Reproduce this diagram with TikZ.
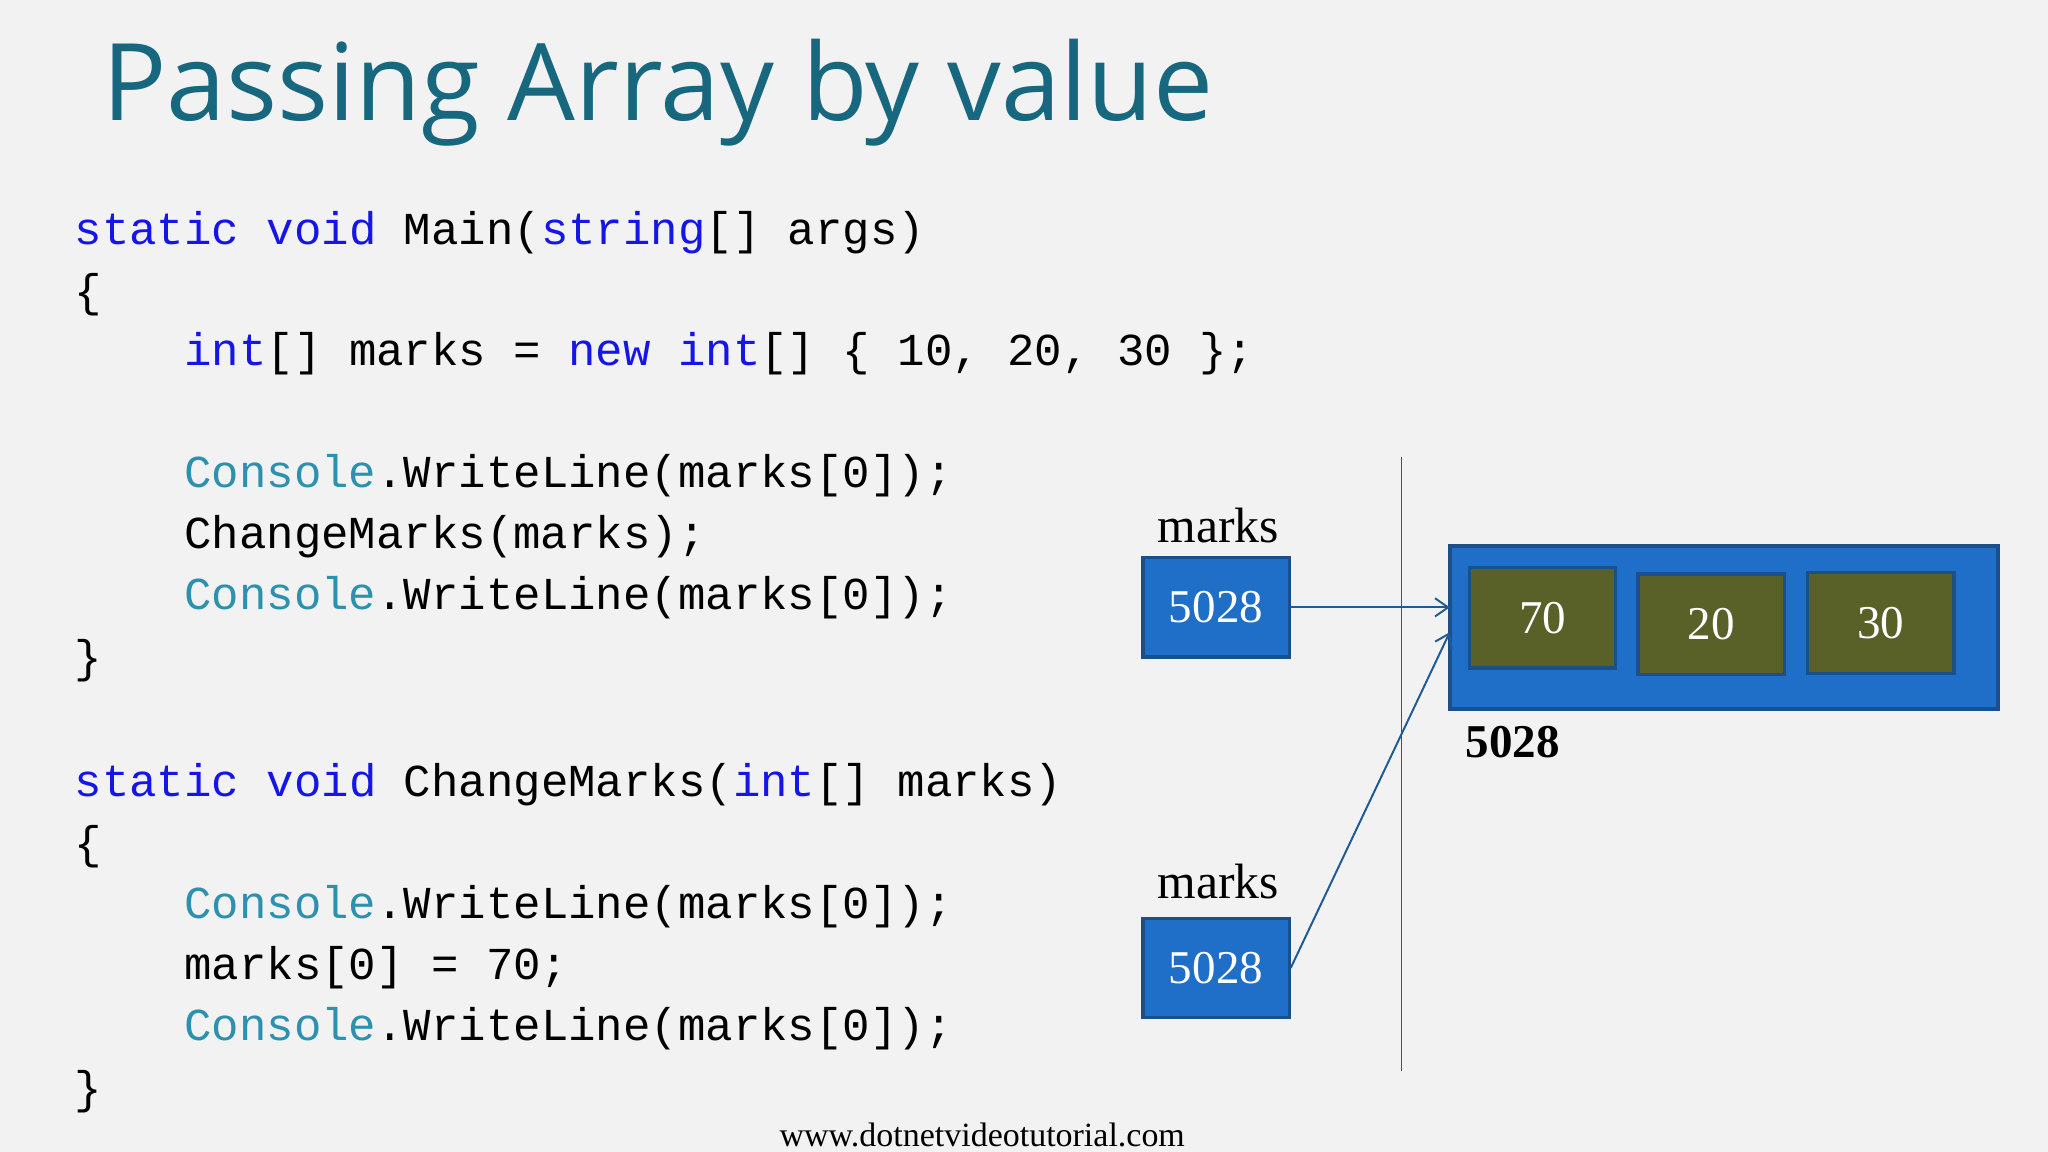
\documentclass[tikz,border=0pt]{standalone}
\usepackage{fontspec}
\setmainfont{Liberation Serif}
\setmonofont{Liberation Mono}
\newfontfamily\titlefont{Open Sans}
\usetikzlibrary{arrows.meta}
\definecolor{kw}{HTML}{1515E8}
\definecolor{cls}{HTML}{2B91AF}
\definecolor{ttl}{HTML}{17687F}
\definecolor{boxb}{HTML}{1F6FC8}
\definecolor{boxd}{HTML}{1A4F8A}
\definecolor{cell}{HTML}{5A6128}
\definecolor{ln}{HTML}{1E5A96}
\newcommand{\K}[1]{\textcolor{kw}{#1}}
\newcommand{\C}[1]{\textcolor{cls}{#1}}
\begin{document}
\begin{tikzpicture}[x=1pt,y=-1pt,
  code/.style={anchor=base west,inner sep=0pt,font=\fontsize{35}{40}\selectfont\ttfamily},
  lbl/.style={anchor=base west,inner sep=0pt,font=\fontsize{38}{42}\selectfont},
  refbox/.style={draw=boxd,line width=2.5pt,fill=boxb,text=white,minimum width=112pt,minimum height=76pt,font=\fontsize{36}{40}\selectfont},
  cellbox/.style={draw=boxd,line width=2.5pt,fill=cell,text=white,minimum width=112pt,minimum height=77pt,font=\fontsize{36}{40}\selectfont},
  conn/.style={ln,line width=1.5pt,-{Straight Barb[length=10pt,width=14pt]}}]
\fill[white!95!black] (0,0) rectangle (1568,882);
\useasboundingbox (0,0) rectangle (1568,882);
\node[anchor=base west,inner sep=0pt,text=ttl,font=\fontsize{82}{90}\selectfont\titlefont] (title) at (78,92) {Passing Array by value};
\node[code] (l1) at (57,187) {\K{static} \K{void} Main(\K{string}[] args)};
\node[code] (l2) at (57,235) {\{};
\node[code] (l3) at (141,280) {\K{int}[] marks = \K{new} \K{int}[] \{ 10, 20, 30 \};};
\node[code] (l4) at (141,373) {\C{Console}.WriteLine(marks[0]);};
\node[code] (l5) at (141,420) {ChangeMarks(marks);};
\node[code] (l6) at (141,467) {\C{Console}.WriteLine(marks[0]);};
\node[code] (l7) at (57,515) {\}};
\node[code] (l8) at (57,610) {\K{static} \K{void} ChangeMarks(\K{int}[] marks)};
\node[code] (l9) at (57,657) {\{};
\node[code] (l10) at (141,703) {\C{Console}.WriteLine(marks[0]);};
\node[code] (l11) at (141,750) {marks[0] = 70;};
\node[code] (l12) at (141,797) {\C{Console}.WriteLine(marks[0]);};
\node[code] (l13) at (57,845) {\}};
\coordinate (vt) at (1073,350); \coordinate (vb) at (1073,820);
\draw[ln,line width=1.5pt] (vt) -- (vb);
\node[lbl] (m1) at (886,415) {marks};
\node[lbl] (m2) at (886,688) {marks};
\node[refbox] (b1) at (931,465) {5028};
\node[refbox] (b2) at (931,741) {5028};
\node[draw=boxd,line width=3pt,fill=boxb,minimum width=420pt,minimum height=125pt] (arr) at (1320,480.5) {};
\node[cellbox] (c1) at (1181,473) {70};
\node[cellbox] (c2) at (1310,478) {20};
\node[cellbox] (c3) at (1440,477) {30};
\node[anchor=base west,inner sep=0pt,font=\fontsize{36}{40}\selectfont\bfseries] (addr) at (1122,580) {5028};
\coordinate (t1) at (1110,465); \coordinate (t2) at (1110,484);
\draw[conn] (b1.east) -- (t1);
\draw[conn] (b2.east) -- (t2);
\node[anchor=base,inner sep=0pt,font=\fontsize{26}{30}\selectfont] (foot) at (752,878) {www.dotnetvideotutorial.com};
\end{tikzpicture}
\end{document}
